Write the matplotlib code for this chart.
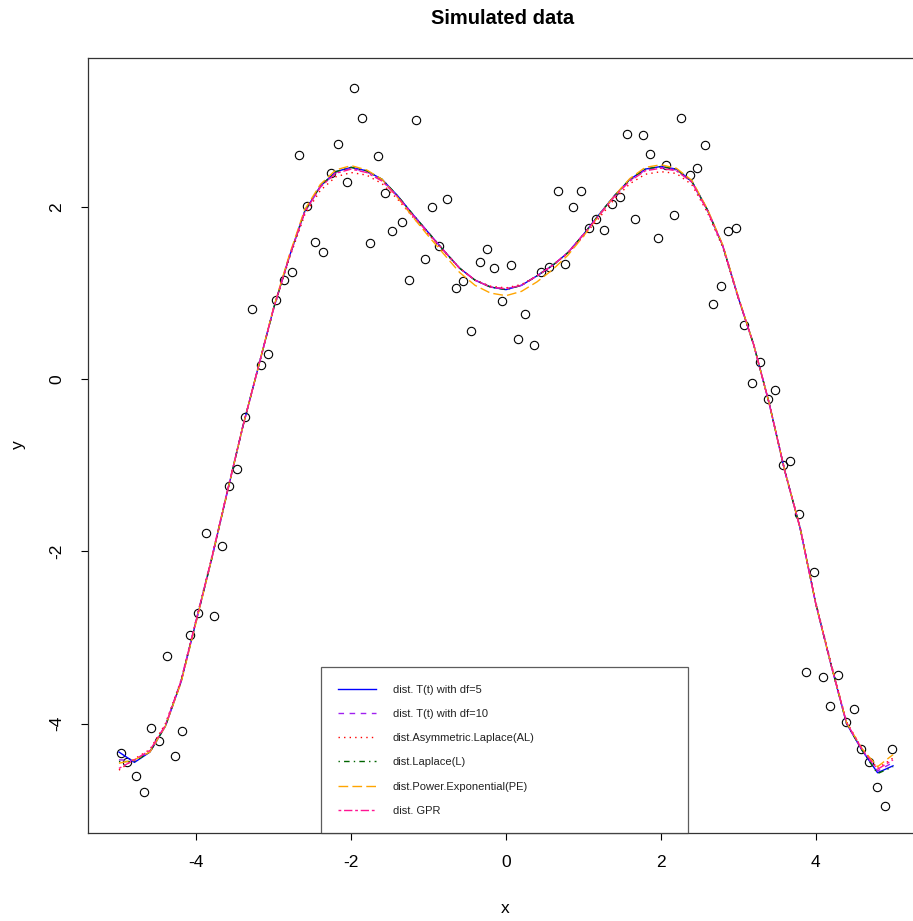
import numpy as np
import matplotlib
matplotlib.use("Agg")
import matplotlib.pyplot as plt

plt.rcParams['font.family'] = ['Liberation Sans', 'DejaVu Sans']
plt.rcParams['axes.unicode_minus'] = False

x_obs = [-4.98, -4.89, -4.78, -4.68, -4.59, -4.48, -4.38, -4.28, -4.19, -4.08,
         -3.98, -3.88, -3.77, -3.67, -3.58, -3.47, -3.37, -3.28, -3.17, -3.07,
         -2.97, -2.87, -2.77, -2.67, -2.57, -2.47, -2.36, -2.26, -2.17, -2.06,
         -1.96, -1.86, -1.76, -1.66, -1.56, -1.47, -1.35, -1.25, -1.16, -1.05,
         -0.95, -0.86, -0.76, -0.65, -0.55, -0.45, -0.34, -0.25, -0.15, -0.05,
         0.06, 0.15, 0.25, 0.36, 0.45, 0.55, 0.67, 0.76, 0.86, 0.97,
         1.07, 1.16, 1.26, 1.37, 1.47, 1.56, 1.67, 1.77, 1.86, 1.96,
         2.07, 2.17, 2.26, 2.38, 2.47, 2.57, 2.68, 2.78, 2.87, 2.97,
         3.08, 3.18, 3.28, 3.38, 3.48, 3.58, 3.67, 3.78, 3.88, 3.98,
         4.09, 4.19, 4.29, 4.39, 4.49, 4.59, 4.69, 4.79, 4.89, 4.99]
y_obs = [-4.34, -4.44, -4.61, -4.79, -4.05, -4.20, -3.22, -4.38, -4.09, -2.97,
         -2.71, -1.79, -2.75, -1.94, -1.24, -1.04, -0.44, 0.81, 0.16, 0.29,
         0.92, 1.15, 1.25, 2.60, 2.01, 1.59, 1.48, 2.40, 2.73, 2.29,
         3.38, 3.03, 1.58, 2.59, 2.16, 1.72, 1.82, 1.15, 3.01, 1.39,
         2.00, 1.55, 2.09, 1.06, 1.14, 0.56, 1.36, 1.51, 1.29, 0.91,
         1.33, 0.47, 0.76, 0.40, 1.24, 1.30, 2.19, 1.34, 2.00, 2.19,
         1.76, 1.86, 1.73, 2.03, 2.11, 2.85, 1.86, 2.83, 2.61, 1.64,
         2.49, 1.91, 3.03, 2.37, 2.45, 2.72, 0.87, 1.08, 1.72, 1.75,
         0.63, -0.04, 0.20, -0.23, -0.12, -1.00, -0.95, -1.56, -3.40, -2.24,
         -3.46, -3.79, -3.43, -3.98, -3.83, -4.30, -4.45, -4.74, -4.96, -4.30]

# fitted curves on a common grid
x_fit = [-5.0, -4.8, -4.6, -4.4, -4.2, -4.0, -3.8, -3.6, -3.4, -3.2,
         -3.0, -2.8, -2.6, -2.4, -2.2, -2.0, -1.8, -1.6, -1.4, -1.2,
         -1.0, -0.8, -0.6, -0.4, -0.2, 0.0, 0.2, 0.4, 0.6, 0.8,
         1.0, 1.2, 1.4, 1.6, 1.8, 2.0, 2.2, 2.4, 2.6, 2.8,
         3.0, 3.2, 3.4, 3.6, 3.8, 4.0, 4.2, 4.4, 4.6, 4.8, 5.0]
fit_t5 = [-4.33, -4.45, -4.33, -4.03, -3.52, -2.80, -2.08, -1.31, -0.55, 0.14,
          0.83, 1.42, 1.95, 2.24, 2.41, 2.46, 2.42, 2.32, 2.13, 1.91,
          1.70, 1.49, 1.29, 1.15, 1.07, 1.04, 1.09, 1.20, 1.32, 1.47,
          1.68, 1.91, 2.13, 2.32, 2.44, 2.47, 2.44, 2.30, 1.97, 1.55,
          0.95, 0.40, -0.28, -1.06, -1.73, -2.60, -3.32, -4.00, -4.31, -4.57, -4.49]
fit_t10 = [-4.42, -4.43, -4.32, -4.02, -3.51, -2.79, -2.07, -1.30, -0.55, 0.14,
           0.83, 1.42, 1.94, 2.23, 2.40, 2.45, 2.41, 2.31, 2.12, 1.91,
           1.70, 1.49, 1.29, 1.15, 1.07, 1.05, 1.09, 1.20, 1.32, 1.47,
           1.68, 1.90, 2.12, 2.31, 2.43, 2.46, 2.43, 2.29, 1.97, 1.55,
           0.95, 0.40, -0.28, -1.06, -1.73, -2.60, -3.32, -4.00, -4.31, -4.55, -4.45]
fit_al = [-4.54, -4.41, -4.30, -4.00, -3.50, -2.78, -2.06, -1.30, -0.55, 0.14,
          0.82, 1.40, 1.91, 2.19, 2.35, 2.40, 2.37, 2.27, 2.09, 1.88,
          1.68, 1.48, 1.29, 1.15, 1.08, 1.06, 1.10, 1.20, 1.32, 1.46,
          1.66, 1.87, 2.09, 2.27, 2.38, 2.41, 2.39, 2.26, 1.94, 1.53,
          0.94, 0.40, -0.28, -1.05, -1.72, -2.58, -3.30, -3.98, -4.29, -4.52, -4.40]
fit_lap = [-4.44, -4.44, -4.33, -4.03, -3.52, -2.80, -2.08, -1.31, -0.55, 0.14,
           0.83, 1.42, 1.95, 2.24, 2.41, 2.46, 2.42, 2.32, 2.13, 1.91,
           1.70, 1.49, 1.29, 1.15, 1.07, 1.04, 1.09, 1.20, 1.32, 1.47,
           1.68, 1.91, 2.13, 2.32, 2.44, 2.47, 2.44, 2.30, 1.97, 1.55,
           0.95, 0.40, -0.28, -1.06, -1.73, -2.60, -3.32, -4.00, -4.31, -4.58, -4.50]
fit_pe = [-4.46, -4.42, -4.33, -4.03, -3.53, -2.81, -2.08, -1.31, -0.55, 0.14,
          0.84, 1.44, 1.97, 2.26, 2.43, 2.48, 2.43, 2.32, 2.11, 1.88,
          1.66, 1.45, 1.24, 1.09, 1.00, 0.97, 1.02, 1.13, 1.27, 1.44,
          1.66, 1.90, 2.13, 2.33, 2.46, 2.49, 2.45, 2.31, 1.98, 1.56,
          0.96, 0.40, -0.28, -1.06, -1.73, -2.60, -3.32, -3.99, -4.29, -4.50, -4.36]
fit_gpr = [-4.52, -4.42, -4.31, -4.02, -3.51, -2.79, -2.07, -1.30, -0.55, 0.14,
           0.83, 1.42, 1.94, 2.23, 2.39, 2.44, 2.40, 2.30, 2.12, 1.90,
           1.69, 1.49, 1.29, 1.15, 1.07, 1.05, 1.09, 1.20, 1.32, 1.47,
           1.68, 1.90, 2.12, 2.30, 2.42, 2.45, 2.42, 2.29, 1.96, 1.55,
           0.95, 0.40, -0.28, -1.06, -1.73, -2.60, -3.32, -3.99, -4.30, -4.53, -4.42]

labels = ["dist. T(t) with df=5", "dist. T(t) with df=10",
          "dist.Asymmetric.Laplace(AL)", "dist.Laplace(L)",
          "dist.Power.Exponential(PE)", "dist. GPR"]
colors = ["blue", "#A020F0", "red", "darkgreen", "orange", "deeppink"]
dashes = [(), (4, 4), (1, 3), (1, 3, 4, 3), (7, 3), (2, 2, 6, 2)]

W, H = 913, 921
fig = plt.figure(figsize=(W / 100, H / 100), dpi=100)
# plot box in pixels: left 88, right 924 (runs past the edge), top 58, bottom 833
ax = fig.add_axes([88 / W, (H - 833) / H, 836 / W, 775 / H])

ax.plot(x_obs, y_obs, 'o', mfc='none', mec='black', ms=6, mew=0.8, zorder=2)

handles = []
for ys, lab, c, d in zip([fit_t5, fit_t10, fit_al, fit_lap, fit_pe, fit_gpr],
                         labels, colors, dashes):
    ln, = ax.plot(x_fit, ys, color=c, lw=1.0, label=lab, zorder=3)
    if d:
        ln.set_dashes(d)
    handles.append(ln)

ax.set_xlim(-5.4, 5.4)
ax.set_ylim(-5.27, 3.73)
ax.set_xticks([-4, -2, 0, 2, 4])
ax.set_yticks([-4, -2, 0, 2])
ax.tick_params(direction='out', length=5, width=0.8, labelsize=12.5, colors='black')
ax.tick_params(axis='x', pad=11)
ax.tick_params(axis='y', pad=12)
for lbl in ax.get_yticklabels():
    lbl.set_rotation(90)
    lbl.set_va('center')
for sp in ax.spines.values():
    sp.set_linewidth(0.9)
    sp.set_color('#333333')

leg = ax.legend(handles=handles, loc='lower left',
                bbox_to_anchor=(0.2787, 0.0, 0.439, 0.2155), mode='expand',
                borderaxespad=0, fontsize=8, frameon=True, fancybox=False,
                handlelength=3.4, handletextpad=1.5, labelspacing=1.28,
                borderpad=1.55)
leg.get_frame().set_edgecolor('#333333')
leg.get_frame().set_linewidth(0.9)
for t in leg.get_texts():
    t.set_color('#222222')

fig.text(503 / W, 1 - 19 / H, "Simulated data", ha='center', va='center',
         fontsize=14.5, fontweight='bold')
fig.text(505 / W, 1 - 908 / H, "x", ha='center', va='center', fontsize=12.5)
fig.text(18 / W, 1 - 445 / H, "y", ha='center', va='center', fontsize=12.5,
         rotation=90)

fig.savefig("out.png", dpi=100)
